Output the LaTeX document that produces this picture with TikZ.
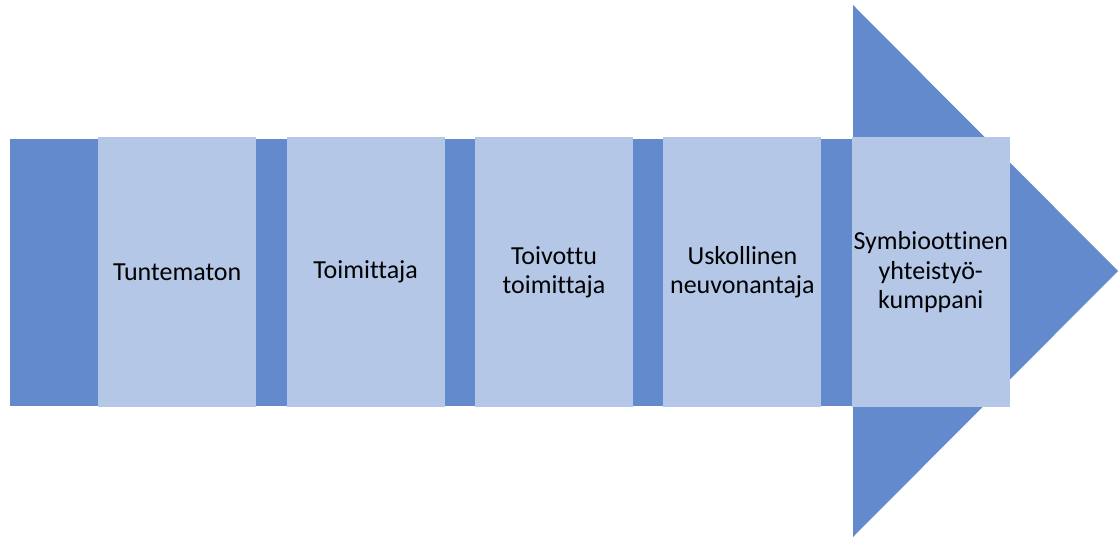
\documentclass[tikz,border=0pt]{standalone}
\usepackage{fontspec}
\setmainfont{Carlito}[Ligatures=CommonOff]
\usetikzlibrary{positioning}
\definecolor{arrowblue}{RGB}{98,138,204}
\definecolor{stageblue}{RGB}{180,199,231}

\begin{document}
\begin{tikzpicture}[x=1pt, y=-1pt,
  stage/.style={fill=stageblue, minimum width=158pt, minimum height=270pt,
    inner sep=0pt, text width=158pt, align=center,
    font=\fontsize{26}{29.5}\selectfont}]

\useasboundingbox (0,0) rectangle (1120,537);

% First, the big arrow: shaft and head
\fill[arrowblue] (10,139) rectangle (853,406);
\fill[arrowblue] (853,5) -- (1118,271) -- (853,537) -- cycle;

% Now the stages on top of the shaft
\node[stage, anchor=north west] (s1) at (98,137) {Tuntematon};
\node[stage, right=30pt of s1] (s2) {Toimittaja};
\node[stage, right=30pt of s2] (s3) {Toivottu\\toimittaja};
\node[stage, right=30pt of s3] (s4) {Uskollinen\\neuvonantaja};
\node[stage, right=30pt of s4] (s5) {Symbioottinen\\yhteistyö-\\kumppani};
\end{tikzpicture}
\end{document}
